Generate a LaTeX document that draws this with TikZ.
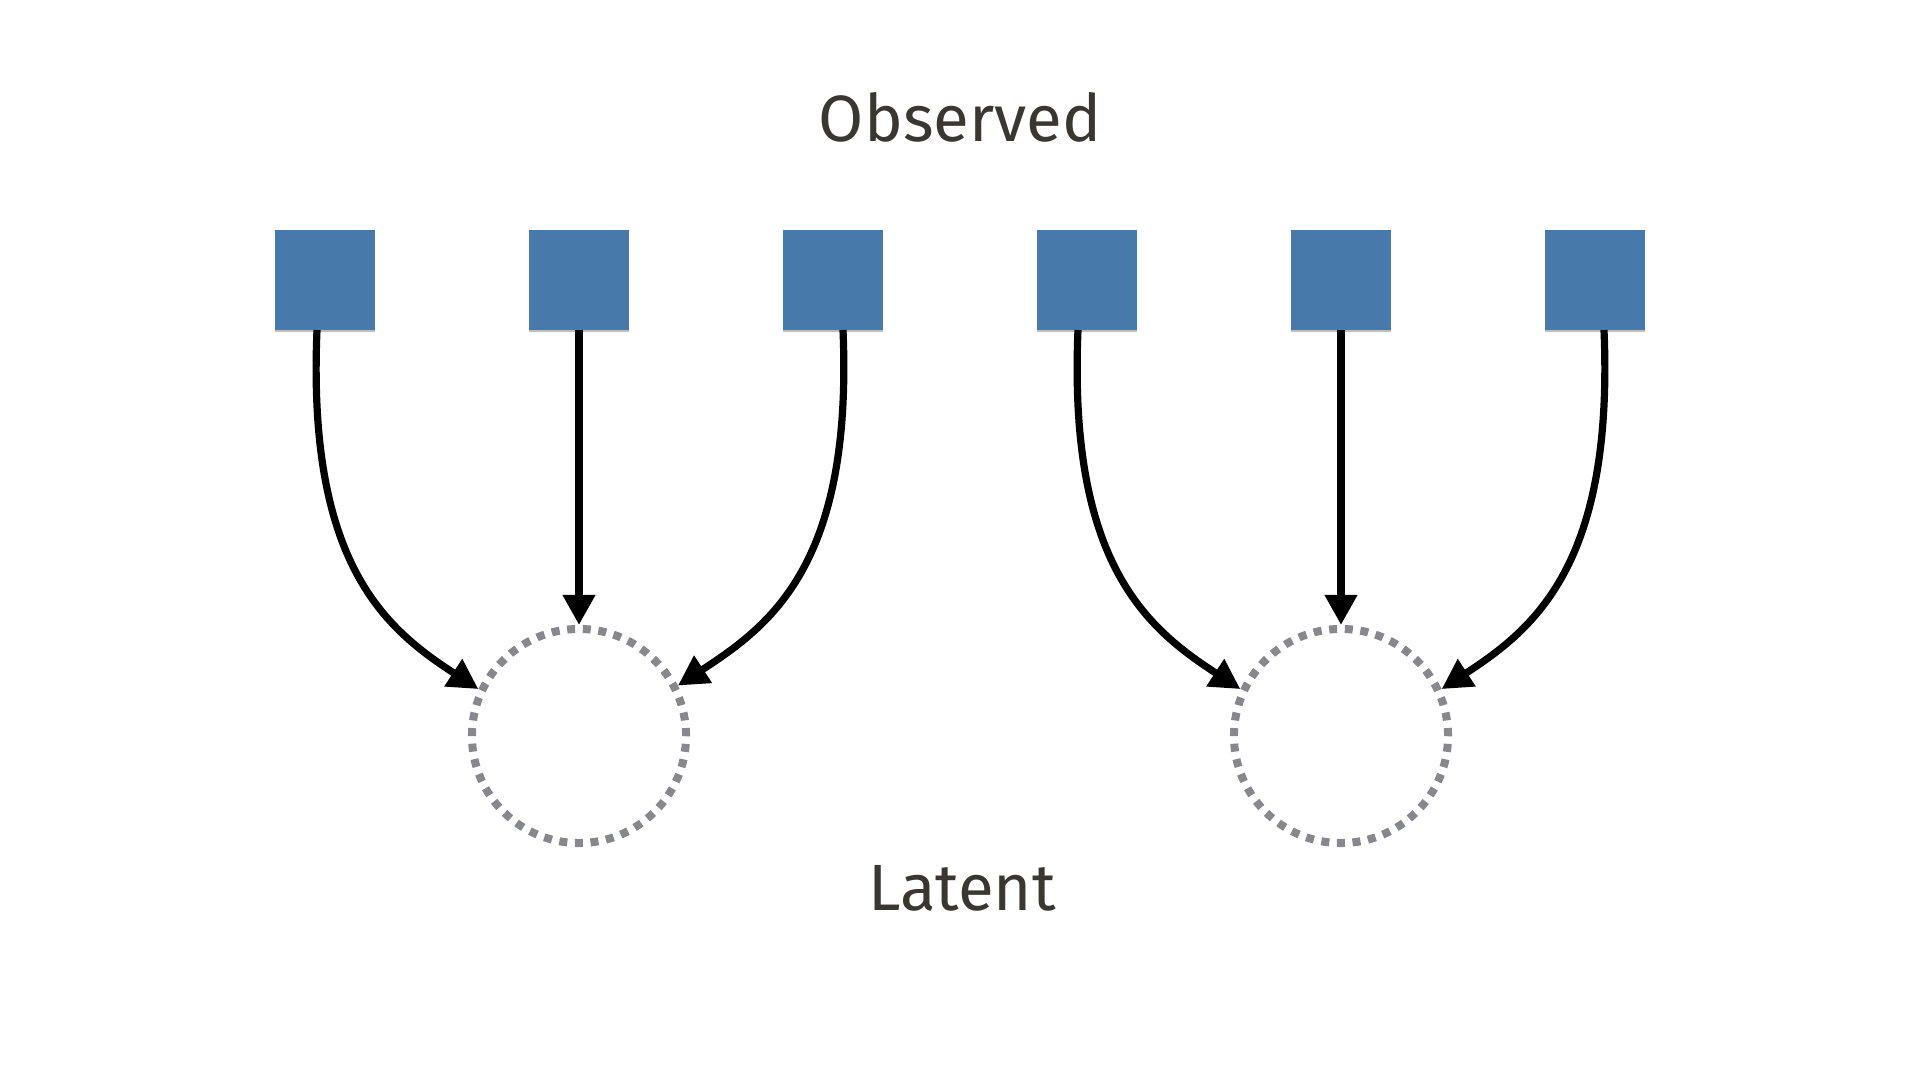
\documentclass[tikz,border=0pt]{standalone}
\usepackage{fontspec}
\setmainfont{Fira Sans}
\usetikzlibrary{arrows.meta,shadows}
\definecolor{boxblue}{RGB}{71,122,170}
\definecolor{dotgray}{RGB}{135,136,142}
\definecolor{textdark}{RGB}{58,55,49}
\tikzset{
  obs/.style={rectangle, fill=boxblue, minimum size=1cm, inner sep=0pt, outer sep=0pt,
    drop shadow={shadow xshift=0cm, shadow yshift=-0.02cm, opacity=0.25, fill=black}},
  lat/.style={circle, draw=dotgray, line width=0.08cm, dash pattern=on 0.08cm off 0.0763cm,
    minimum size=2.14cm, inner sep=0pt},
  link/.style={line width=0.072cm, draw=black, -{Triangle[length=0.3cm,width=0.31cm]}},
  lbl/.style={font=\fontsize{18.6}{22}\selectfont, text=textdark, inner sep=0pt}
}
\begin{document}
\begin{tikzpicture}[x=0.01cm, y=-0.01cm]
  \fill[white] (0,0) rectangle (1920,1080);
  \path[use as bounding box] (0,0) rectangle (1920,1080);

  \node[lbl, anchor=base] (obs) at (960,142) {Observed};
  \node[lbl, anchor=base] (latlbl) at (962,911) {Latent};

  \node[obs] (s1) at (325,280) {};
  \node[obs] (s2) at (579,280) {};
  \node[obs] (s3) at (833,280) {};
  \node[obs] (s4) at (1087,280) {};
  \node[obs] (s5) at (1341,280) {};
  \node[obs] (s6) at (1595,280) {};

  \node[lat] (c1) at (579,736) {};
  \node[lat] (c2) at (1341,736) {};

  % group 1
  \draw[link] ([xshift=-0.08cm]s1.south) .. controls +(-10,235) and +(-92,-60) .. (c1.155);
  \draw[link] (s2.south) -- (c1.north);
  \draw[link] ([xshift=0.1cm]s3.south) .. controls +(10,235) and +(92,-60) .. (c1.27);

  % group 2
  \draw[link] ([xshift=-0.09cm]s4.south) .. controls +(-10,235) and +(-92,-60) .. (c2.155);
  \draw[link] (s5.south) -- (c2.north);
  \draw[link] ([xshift=0.09cm]s6.south) .. controls +(10,235) and +(92,-60) .. (c2.25);
\end{tikzpicture}
\end{document}
